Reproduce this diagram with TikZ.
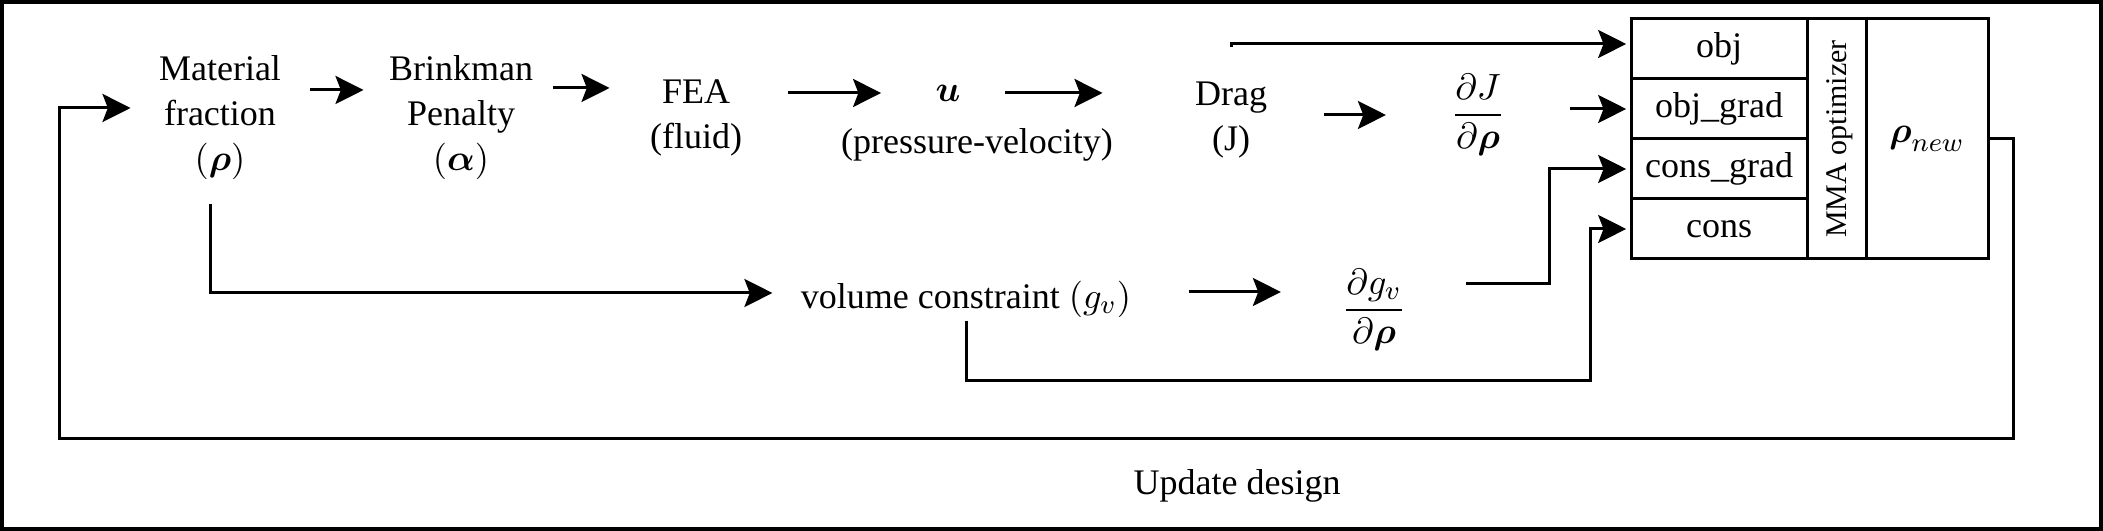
\documentclass[tikz,border=0pt]{standalone}
\usepackage{amsmath,amssymb}
\usepackage{fontspec}
\setmainfont{Liberation Serif}
\usepackage{tikz}
\usetikzlibrary{arrows.meta,positioning}
\def\brho{\boldsymbol{\rho}}

\begin{document}
\begin{tikzpicture}[>={Stealth[width=8.4pt,length=8.4pt,inset=1.6pt]}, line width=0.9pt, txt/.style={inner sep=0pt, align=center, font=\fontsize{10.8pt}{13.5pt}\selectfont}, cell/.style={draw, inner sep=0pt, minimum width=52.8pt, minimum height=18pt, font=\fontsize{10.8pt}{13.5pt}\selectfont}]
	\useasboundingbox (0pt, 0pt) rectangle (630.9pt, -159.3pt);
	\draw[line width=1.2pt] (0.6pt, -0.6pt) rectangle (630.3pt, -158.7pt);
	\draw (66.0pt, -35.4pt)node[txt](mat){Material\\fraction\\$(\brho)$};
	\draw (138.3pt, -35.4pt)node[txt](brink){Brinkman\\Penalty\\$(\boldsymbol{\alpha})$};
	\draw (208.8pt, -35.4pt)node[txt](fea){FEA\\(fluid)};
	\draw (284.4pt, -27.9pt)node[txt](u){$\boldsymbol{u}$};
	\draw (293.1pt, -43.5pt)node[txt](pv){(pressure-velocity)};
	\draw (369.3pt, -36.0pt)node[txt](drag){Drag\\(J)};
	\draw (443.4pt, -34.5pt)node[txt](dJ){$\dfrac{\partial J}{\partial \brho}$};
	\draw (289.8pt, -89.7pt)node[txt](vol){volume constraint $(g_v)$};
	\draw (412.2pt, -93.0pt)node[txt](dg){$\dfrac{\partial g_v}{\partial \brho}$};
	\draw (371.1pt, -145.8pt)node[txt](upd){Update design};
	% optimizer block
	\draw (515.7pt, -14.7pt)node[cell](obj){obj};
	\draw (515.7pt, -32.7pt)node[cell](ograd){obj\_grad};
	\draw (515.7pt, -50.7pt)node[cell](cgrad){cons\_grad};
	\draw (515.7pt, -68.7pt)node[cell](cons){cons};
	\draw (550.95pt, -41.7pt)node[cell, minimum width=17.7pt, minimum height=72pt](mma){};
	\node[rotate=90, inner sep=0pt, font=\fontsize{9pt}{11pt}\selectfont] (mmatxt) at ([xshift=1pt]mma.center) {MMA optimizer};
	\draw (578.1pt, -41.7pt)node[cell, minimum width=36.6pt, minimum height=72pt](rnew){$\brho_{new}$};
	% main chain
	\path[->] ([yshift=8.4pt]mat.east) edge[shorten <=8.4pt, shorten >=7.2pt] ([yshift=8.4pt]brink.west);
	\path[->] ([yshift=9pt]brink.east) edge[shorten <=5.4pt, shorten >=11.7pt] ([yshift=9pt]fea.west);
	\path[->] (u.west -| fea.east) edge[shorten <=13.5pt, shorten >=15.9pt] (u.west);
	\path[->] (u.east) edge[shorten <=12.9pt, shorten >=27.3pt] (u.east -| drag.west);
	\path[->] (dJ.west -| drag.east) edge[shorten <=16.5pt, shorten >=19.2pt] (dJ.west);
	\path[->] (ograd.west -| dJ.east) edge[shorten <=19.2pt, shorten >=1pt] (ograd.west);
	\draw[->, shorten <=9.9pt, shorten >=1pt] (drag.north) |- ([yshift=1.5pt]obj.west);
	% constraint branch
	\draw[->, shorten <=6.6pt, shorten >=8.1pt] ([xshift=-3pt]mat.south) |- ([yshift=1.8pt]vol.west);
	\path[->] ([yshift=2.1pt]vol.east) edge[shorten <=16.8pt, shorten >=18pt] ([yshift=2.1pt]vol.east -| dg.west);
	\draw[->, shorten <=17.7pt, shorten >=1pt] ([yshift=7.8pt]dg.east) -- ++(42.6pt, 0pt) |- (cgrad.west);
	\draw[->, shorten <=0.6pt, shorten >=1pt] (vol.south) -- ++(0pt, -18.6pt) -| ([xshift=-11.7pt]cons.west) -- (cons.west);
	% update loop
	\draw[->, shorten >=8.1pt] (rnew.east) -- ++(7.2pt, 0pt) -- ++(0pt, -90pt) -| ([xshift=-29.4pt, yshift=3pt]mat.west) -- ([yshift=3pt]mat.west);
\end{tikzpicture}
\end{document}
